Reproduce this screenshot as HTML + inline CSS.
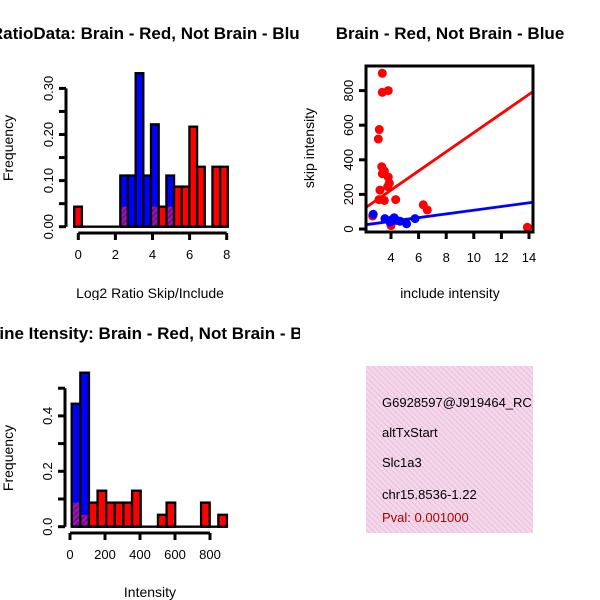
<!DOCTYPE html>
<html><head><meta charset="utf-8"><style>
html,body{margin:0;padding:0;background:#fff}
svg{display:block;font-family:"Liberation Sans",sans-serif}
</style></head><body>
<svg id="c" width="600" height="600" viewBox="0 0 600 600" xmlns="http://www.w3.org/2000/svg">
<defs>
<clipPath id="q1"><rect x="0" y="0" width="300" height="300"/></clipPath>
<clipPath id="q3"><rect x="0" y="300" width="300" height="300"/></clipPath>
<clipPath id="q4"><rect x="366" y="366" width="167" height="167"/></clipPath>
<pattern id="purp" width="4" height="4" patternUnits="userSpaceOnUse" patternTransform="rotate(45)"><rect width="4" height="4" fill="#9a1aa8"/><rect width="2" height="4" fill="#7a0a90"/></pattern>
<pattern id="pink" width="4" height="4" patternUnits="userSpaceOnUse" patternTransform="rotate(-45)"><rect width="4" height="4" fill="#f8d4f0"/><rect width="1" height="4" fill="#dcc8c8"/></pattern>
</defs>
<g id="p1" clip-path="url(#q1)"></g>
<g id="p2"></g>
<g id="p3" clip-path="url(#q3)"></g>
<g id="p4">
<rect x="366" y="366" width="167" height="167" fill="url(#pink)"/>
<g clip-path="url(#q4)" font-size="13">
<text x="382" y="407">G6928597@J919464_RC</text>
<text x="382" y="437">altTxStart</text>
<text x="382" y="467">Slc1a3</text>
<text x="382" y="499">chr15.8536-1.22</text>
<text x="382" y="522" fill="#b00000">Pval: 0.001000</text>
</g></g>
</svg>
<script>
// ---- Plot 1 data: ratio histogram ----
const h1BinStart = -0.22, h1BinWidth = 0.414;
const h1Red  = [0.0435,0,0,0,0,0,0.0435,0,0,0,0.0435,0.0435,0.0435,0.087,0.087,0.217,0.13,0,0.13,0.13];
const h1Blue = [0,0,0,0,0,0,0.111,0.111,0.333,0.111,0.222,0,0.111,0,0,0,0,0,0,0];
const h1YTicks = [0,0.05,0.10,0.15,0.20,0.25,0.30];
const h1YLabels = ["0.00","0.10","0.20","0.30"];
const h1XTicks = [0,2,4,6,8];
// ---- Plot 2 data: scatter ----
const redX = [3.37,3.37,3.80,3.15,3.08,3.33,3.52,3.37,3.80,3.88,3.76,3.20,3.13,3.52,4.34,6.34,6.63,2.67,4.0,13.88];
const redY = [900,790,800,575,520,360,335,320,300,265,245,225,170,165,170,140,110,75,20,10];
const blueX = [2.71,3.56,4.23,4.40,4.65,5.13,5.74,3.93,4.10];
const blueY = [85,60,65,50,45,30,60,40,55];
const fitIntercept = [3.9,1.5];
const fitSlope = [55.3,10.7];
const sXTicks = [4,6,8,10,12,14];
const sYTicks = [0,200,400,600,800];
// ---- Plot 3 data: intensity histogram ----
const h3BinWidth = 50;
const h3Red  = [0.087,0.043,0.087,0.13,0.087,0.087,0.087,0.13,0,0,0.043,0.087,0,0,0,0.087,0,0.043];
const h3Blue = [0.444,0.556,0,0,0,0,0,0,0,0,0,0,0,0,0,0,0,0];
const h3YTicks = [0,0.1,0.2,0.3,0.4,0.5];
const h3YLabels = [0,0.2,0.4];
const h3XTicks = [0,200,400,600,800];

const NS="http://www.w3.org/2000/svg";
function mk(parent,tag,attrs,txt){const e=document.createElementNS(NS,tag);for(const k in attrs)e.setAttribute(k,attrs[k]);if(txt!==undefined)e.textContent=txt;parent.appendChild(e);return e;}

function hist(g,cfg){
  const {x,y,red,blue,start,width}=cfg;
  for(let i=0;i<red.length;i++){
    const x0=x(start+i*width),x1=x(start+(i+1)*width);
    if(blue[i]>0){const r=mk(g,'rect',{x:x0,y:y(blue[i]),width:x1-x0,height:y(0)-y(blue[i]),fill:'#0000ff',stroke:'#000','stroke-width':2.3});
      
      }
    if(red[i]>0){
      if(red[i]>blue[i]){const r=mk(g,'rect',{x:x0,y:y(red[i]),width:x1-x0,height:y(0)-y(red[i]),fill:'#ff0000',stroke:'#000','stroke-width':2.3});
        
        }
      const m=Math.min(red[i],blue[i]);
      if(m>0){const r=mk(g,'rect',{x:x0+1.2,y:y(m),width:x1-x0-2.4,height:y(0)-y(m)-1.2,fill:'url(#purp)'});
        
        }
    }
  }
}
function yaxis(g,xa,y,ticks,labels,fmt){
  mk(g,'line',{x1:xa,x2:xa,y1:y(ticks[0]),y2:y(ticks[ticks.length-1]),stroke:'#000','stroke-width':3});
  ticks.forEach(t=>mk(g,'line',{x1:xa-7,x2:xa,y1:y(t),y2:y(t),stroke:'#000','stroke-width':3}));
  labels.forEach(t=>{const l=mk(g,'text',{x:0,y:0,'font-size':13,'text-anchor':'middle',transform:`translate(${xa-13},${y(t)}) rotate(-90)`},fmt(t));
    
    });
}
function xaxis(g,ya,x,ticks,fmt){
  mk(g,'line',{x1:x(ticks[0]),x2:x(ticks[ticks.length-1]),y1:ya,y2:ya,stroke:'#000','stroke-width':3});
  ticks.forEach(t=>{mk(g,'line',{x1:x(t),x2:x(t),y1:ya,y2:ya+7,stroke:'#000','stroke-width':3});
    const l=mk(g,'text',{x:x(t),y:ya+26,'font-size':13,'text-anchor':'middle'},fmt(t));
    
    });
}
function label(g,x,y,txt,name,rot,bold,size){
  const a={x:rot?0:x,y:rot?0:y,'font-size':size||14,'text-anchor':'middle'};
  if(rot)a.transform=`translate(${x},${y}) rotate(-90)`;
  if(bold)a['font-weight']='bold';
  const l=mk(g,'text',a,txt);
  
  
}

// Plot 1
(function(){
  const g=document.getElementById('p1');
  const x=v=>78.3+v*18.55, y=v=>226.7-v*461;
  hist(g,{x,y,red:h1Red,blue:h1Blue,start:h1BinStart,width:h1BinWidth});
  mk(g,'line',{x1:x(h1BinStart),x2:x(h1BinStart+h1Red.length*h1BinWidth),y1:y(0),y2:y(0),stroke:'#000','stroke-width':2.3});
  yaxis(g,66,y,h1YTicks,h1YLabels.map(Number),v=>v.toFixed(2));
  xaxis(g,233,x,h1XTicks,v=>String(v));
  label(g,150,39,'RatioData: Brain - Red, Not Brain - Blue','chart-title-ratio',false,true,17);
  label(g,150,298,'Log2 Ratio Skip/Include','x-axis-title-ratio');
  label(g,13,148,'Frequency','y-axis-title-ratio',true);
})();

// Plot 2
(function(){
  const g=document.getElementById('p2');
  const x=v=>391+(v-4)*13.8, y=v=>229-v*0.173;
  const x0=2.19,x1=14.3;
  for(let i=0;i<redX.length;i++){const c=mk(g,'circle',{cx:x(redX[i]),cy:y(redY[i]),r:4.5,fill:'#ff0000'});
    
    }
  for(let i=0;i<blueX.length;i++){const c=mk(g,'circle',{cx:x(blueX[i]),cy:y(blueY[i]),r:4.5,fill:'#0000ff'});
    
    }
  ['#ff0000','#0000ff'].forEach((col,k)=>{
    const l=mk(g,'line',{x1:x(x0),y1:y(fitIntercept[k]+fitSlope[k]*x0),x2:x(x1),y2:y(fitIntercept[k]+fitSlope[k]*x1),stroke:col,'stroke-width':2.8});
    
    
  });
  mk(g,'rect',{x:366,y:66,width:167,height:166,fill:'none',stroke:'#000','stroke-width':3});
  yaxis(g,366,y,sYTicks,sYTicks,v=>String(v));
  sXTicks.forEach(t=>{mk(g,'line',{x1:x(t),x2:x(t),y1:232,y2:239,stroke:'#000','stroke-width':3});
    const l=mk(g,'text',{x:x(t),y:262,'font-size':13,'text-anchor':'middle'},String(t));
    
    });
  label(g,450,39,'Brain - Red, Not Brain - Blue','chart-title-scatter',false,true,17);
  label(g,450,298,'include intensity','x-axis-title-scatter');
  label(g,314,148,'skip intensity','y-axis-title-scatter',true);
})();

// Plot 3
(function(){
  const g=document.getElementById('p3');
  const x=v=>71.7+v*0.1725, y=v=>526.7-v*277;
  hist(g,{x,y,red:h3Red,blue:h3Blue,start:0,width:h3BinWidth});
  mk(g,'line',{x1:x(0),x2:x(h3Red.length*h3BinWidth),y1:y(0),y2:y(0),stroke:'#000','stroke-width':2.3});
  yaxis(g,65,y,h3YTicks,h3YLabels,v=>String(v.toFixed(1)));
  xaxis(g,533,v=>70+v*0.175,h3XTicks,v=>String(v));
  label(g,150,339,'Spline Itensity: Brain - Red, Not Brain - Blue','chart-title-intensity',false,true,17);
  label(g,150,597,'Intensity','x-axis-title-intensity');
  label(g,13,458,'Frequency','y-axis-title-intensity',true);
})();
</script>
</body></html>
